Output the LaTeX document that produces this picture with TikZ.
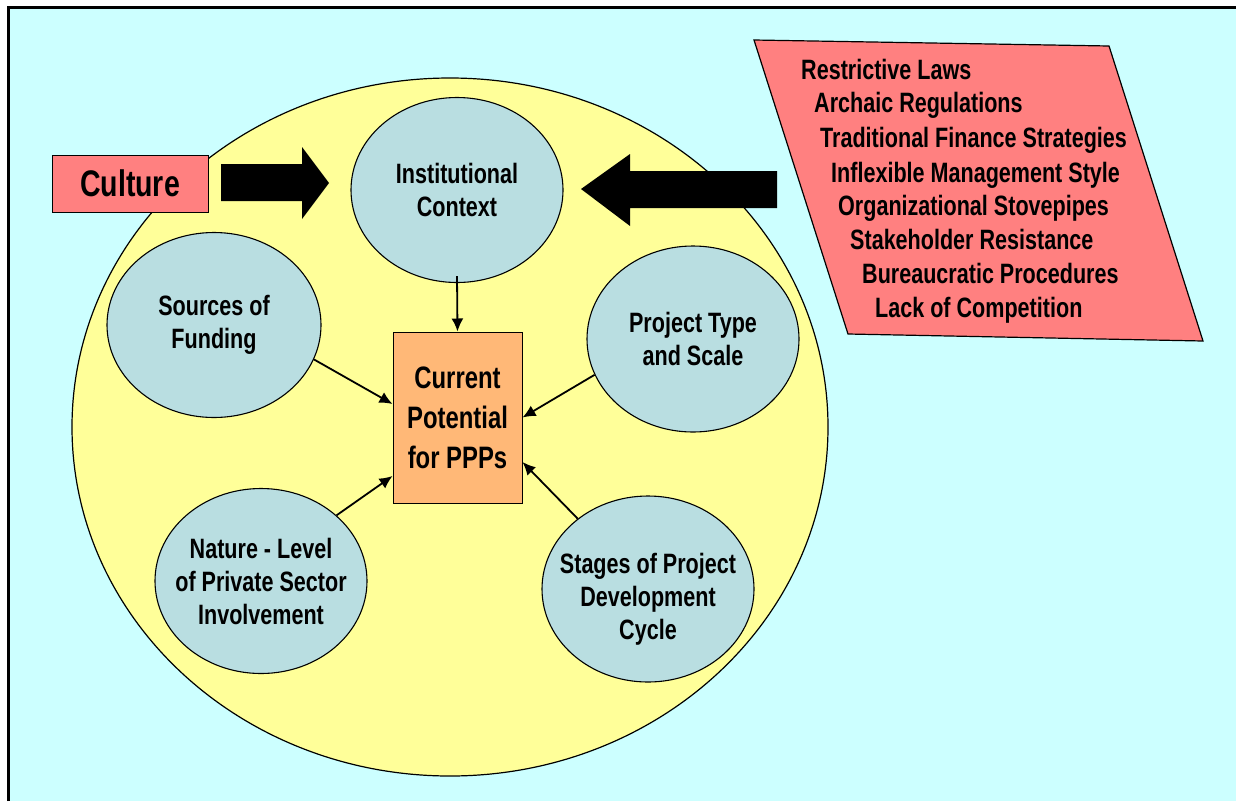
\documentclass[tikz,border=0pt]{standalone}
\usepackage{fontspec}
\setmainfont[FakeStretch=0.77]{Liberation Sans}
\usetikzlibrary{shapes.geometric,arrows.meta}
\definecolor{bg}{HTML}{CCFFFF}
\definecolor{yel}{HTML}{FFFF99}
\definecolor{ell}{HTML}{B9DEE1}
\definecolor{org}{HTML}{FFB877}
\definecolor{pnk}{HTML}{FF8080}
\begin{document}
\begin{tikzpicture}[x=1pt,y=-1pt,
  bub/.style={ellipse, draw=black, line width=1.1pt, fill=ell, minimum width=212pt, minimum height=185pt, inner sep=-40pt, align=center, font=\bfseries\fontsize{28}{33}\selectfont},
  conn/.style={line width=1.8pt, -{Latex[length=13pt,width=12pt]}},
  lst/.style={anchor=base west, inner sep=0pt, font=\bfseries\fontsize{28}{34}\selectfont}]
\useasboundingbox (0,0) rectangle (1236,801);
\fill[white] (0,0) rectangle (1236,801);
\fill[bg] (8,7) rectangle (1236,801);
\draw[line width=3pt] (8.5,801) -- (8.5,7.5) -- (1236,7.5);
% big yellow circle
\draw[fill=yel, line width=1.2pt] (450,427) ellipse [x radius=378pt, y radius=349pt];
% culture
\node[draw, fill=pnk, line width=1pt, minimum width=156pt, minimum height=57pt, inner sep=0pt, font=\bfseries\fontsize{37}{40}\selectfont] (culture) at (130,183.5) {Culture};
% block arrows
\coordinate (ca1) at (221,164);
\coordinate (ca2) at (329,183);
\fill (ca1) -- (302,164) -- (302,147) -- (ca2) -- (302,219) -- (302,201) -- (221,201) -- cycle;
\coordinate (la1) at (777,171);
\coordinate (la2) at (581,189);
\fill (la1) -- (630,171) -- (630,154) -- (la2) -- (630,226) -- (630,208) -- (777,208) -- cycle;
% parallelogram
\draw[fill=pnk, line width=1.2pt] (754,40) -- (1109,46) -- (1203,341) -- (848,334) -- cycle;
\node[lst] (l1) at (801,79) {Restrictive Laws};
\node[lst] (l2) at (814,112) {Archaic Regulations};
\node[lst] (l3) at (820,147) {Traditional Finance Strategies};
\node[lst] (l4) at (831,182) {Inflexible Management Style};
\node[lst] (l5) at (838,215) {Organizational Stovepipes};
\node[lst] (l6) at (850,249) {Stakeholder Resistance};
\node[lst] (l7) at (862,283) {Bureaucratic Procedures};
\node[lst] (l8) at (875,317) {Lack of Competition};
% ellipses
\node[bub] (inst) at (457,190) {Institutional\\Context};
\node[bub, minimum width=214pt] (src) at (214,325) {Sources of\\Funding};
\node[bub, minimum height=186pt] (proj) at (693,339) {Project Type\\and Scale};
\node[bub] (nat) at (261,581) {Nature - Level\\of Private Sector\\Involvement};
\node[bub, minimum height=186pt] (stg) at (648,589) {\rule{0pt}{41pt}Stages of Project\\Development\\Cycle};
% central box
\node[draw, fill=org, line width=1pt, minimum width=129pt, minimum height=171pt, inner sep=0pt, align=center, font=\bfseries\fontsize{31}{40}\selectfont] (box) at (457.5,417.5) {Current\\Potential\\for PPPs};
% connectors
\draw[conn] ([yshift=7pt]inst.south) -- (box.north);
\draw[conn] (src.-19) -- ([yshift=13.5pt]box.west);
\draw[conn] (proj.200.8) -- (box.east);
\draw[conn] (nat.41.6) -- ([yshift=-58.5pt]box.west);
\draw[conn] (stg.135.4) -- ([yshift=-44.5pt]box.east);
\end{tikzpicture}
\end{document}
